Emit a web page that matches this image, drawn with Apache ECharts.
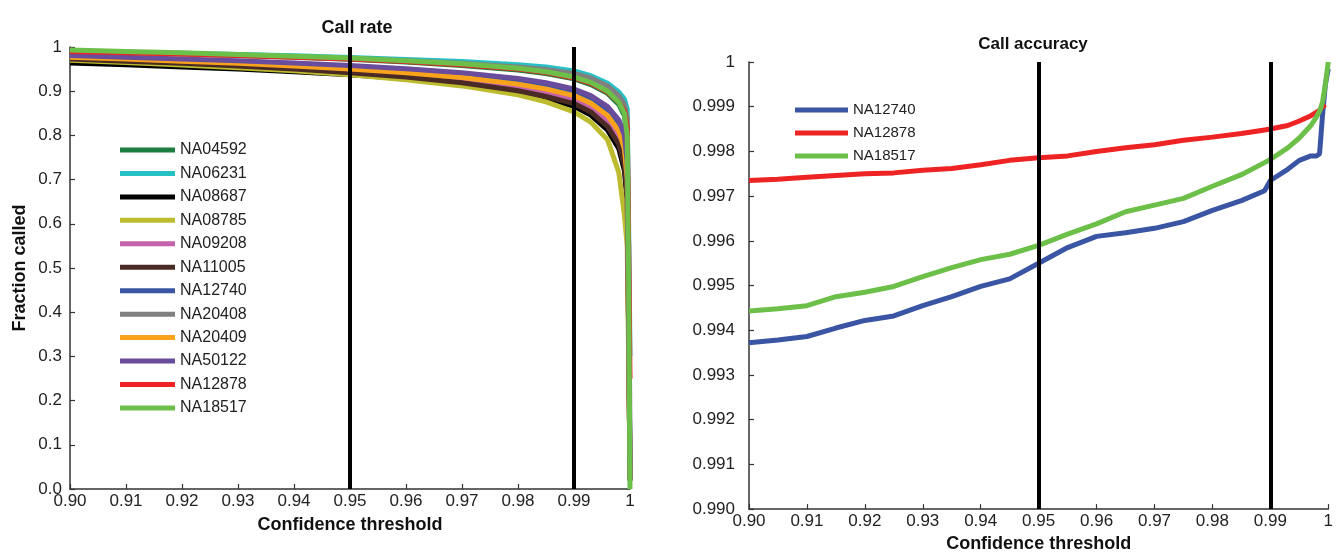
<!DOCTYPE html>
<html>
<head>
<meta charset="utf-8">
<script src="https://cdn.jsdelivr.net/npm/echarts@6/dist/echarts.min.js"></script>
<style>html,body{margin:0;padding:0;background:#fff}#c{width:1336px;height:558px}</style>
</head>
<body>
<div id="c"></div>
<script>
// ---------- Data: Call rate (left) ----------
var xRate = [0.90,0.91,0.92,0.93,0.94,0.95,0.96,0.97,0.98,0.985,0.99,0.993,0.996,0.998,0.999,0.9995,0.9998,1.0];
var rateNames = ['NA04592','NA06231','NA08687','NA08785','NA09208','NA11005','NA12740','NA20408','NA20409','NA50122','NA12878','NA18517'];
var rateColors = ['#1b7d3f','#27c0c4','#000000','#bcbc2e','#c462ac','#4a2a24','#3a55a4','#808080','#f8a31b','#6a4c9c','#ee2424','#6cc04a'];
var rNA04592 = [0.991,0.988,0.985,0.981,0.977,0.972,0.966,0.958,0.948,0.940,0.928,0.915,0.895,0.870,0.845,0.790,0.40,0.02];
var rNA06231 = [0.990,0.988,0.986,0.983,0.980,0.976,0.972,0.967,0.960,0.955,0.946,0.935,0.918,0.898,0.882,0.860,0.55,0.30];
var rNA08687 = [0.964,0.960,0.955,0.950,0.944,0.937,0.928,0.916,0.898,0.884,0.866,0.846,0.812,0.770,0.720,0.650,0.30,0.02];
var rNA08785 = [0.970,0.965,0.959,0.953,0.946,0.937,0.926,0.912,0.892,0.876,0.853,0.830,0.790,0.716,0.620,0.550,0.25,0.02];
var rNA09208 = [0.975,0.971,0.966,0.960,0.954,0.946,0.937,0.925,0.908,0.896,0.880,0.862,0.832,0.795,0.750,0.680,0.30,0.02];
var rNA11005 = [0.973,0.968,0.963,0.957,0.950,0.942,0.932,0.919,0.901,0.888,0.872,0.853,0.820,0.780,0.730,0.660,0.30,0.02];
var rNA12740 = [0.979,0.975,0.970,0.965,0.960,0.953,0.946,0.936,0.922,0.912,0.898,0.882,0.855,0.825,0.790,0.720,0.35,0.02];
var rNA20408 = [0.989,0.987,0.984,0.981,0.978,0.974,0.969,0.963,0.955,0.949,0.940,0.930,0.912,0.890,0.870,0.840,0.50,0.10];
var rNA20409 = [0.977,0.973,0.968,0.963,0.957,0.950,0.942,0.931,0.916,0.905,0.890,0.873,0.845,0.810,0.770,0.700,0.30,0.02];
var rNA50122 = [0.981,0.977,0.973,0.969,0.964,0.958,0.951,0.942,0.929,0.919,0.905,0.890,0.865,0.835,0.800,0.740,0.35,0.02];
var rNA12878 = [0.990,0.987,0.984,0.981,0.977,0.973,0.967,0.960,0.950,0.942,0.930,0.918,0.898,0.875,0.855,0.820,0.50,0.25];
var rNA18517 = [0.993,0.990,0.987,0.983,0.979,0.975,0.969,0.962,0.952,0.944,0.932,0.920,0.900,0.875,0.850,0.800,0.40,0.00];
var rateValues = [rNA04592,rNA06231,rNA08687,rNA08785,rNA09208,rNA11005,rNA12740,rNA20408,rNA20409,rNA50122,rNA12878,rNA18517];

// ---------- Data: Call accuracy (right) ----------
var xAcc = [0.900,0.905,0.910,0.915,0.920,0.925,0.930,0.935,0.940,0.945,0.950,0.955,0.960,0.965,0.970,0.975,0.980,0.985,0.989,0.990,0.993,0.995,0.997,0.998,0.9985,0.999,0.9995,1.0];
var accNames = ['NA12740','NA12878','NA18517'];
var accColors = ['#3a55a4','#ee2424','#6cc04a'];
var aNA12740 = [0.99372,0.99378,0.99386,0.99405,0.99422,0.99432,0.99455,0.99475,0.99498,0.99515,0.99550,0.99585,0.99610,0.99618,0.99628,0.99643,0.99668,0.99690,0.99712,0.99735,0.99760,0.99780,0.99790,0.99790,0.99795,0.99880,0.99950,0.99985];
var aNA12878 = [0.99735,0.99738,0.99742,0.99746,0.99750,0.99752,0.99758,0.99762,0.99770,0.99780,0.99786,0.99790,0.99800,0.99808,0.99815,0.99825,0.99832,0.99840,0.99848,0.99850,0.99858,0.99868,0.99880,0.99888,0.99892,0.99900,0.99905,null];
var aNA18517 = [0.99443,0.99448,0.99455,0.99475,0.99485,0.99498,0.99520,0.99540,0.99558,0.99570,0.99590,0.99615,0.99638,0.99665,0.99680,0.99695,0.99722,0.99748,0.99775,0.99782,0.99808,0.99830,0.99858,0.99878,0.99890,0.99910,0.99950,1.00000];
var accValues = [aNA12740,aNA12878,aNA18517];

var thresholds = [0.95, 0.99];

// ---------- Build chart ----------
var FONT = '"Liberation Sans", Arial, sans-serif';
function pairs(xs, ys){ var o=[]; for(var i=0;i<xs.length;i++){ if(ys[i]!==null) o.push([xs[i], ys[i]]); } return o; }
var markLine = {
  silent:true, symbol:'none', label:{show:false},
  lineStyle:{color:'#000', width:4, type:'solid'},
  emphasis:{disabled:true},
  data: thresholds.map(function(t){ return {xAxis:t}; })
};

var series = [];
rateNames.forEach(function(n,i){
  series.push({
    name:n, type:'line', xAxisIndex:0, yAxisIndex:0, showSymbol:false, symbol:'none',
    color:rateColors[i], lineStyle:{width:5, color:rateColors[i]},
    data: pairs(xRate, rateValues[i]),
    markLine: i===rateNames.length-1 ? markLine : undefined,
    z: 2
  });
});
accNames.forEach(function(n,i){
  series.push({
    name:n, type:'line', xAxisIndex:1, yAxisIndex:1, showSymbol:false, symbol:'none',
    color:accColors[i], lineStyle:{width:5, color:accColors[i]},
    data: pairs(xAcc, accValues[i]),
    markLine: i===accNames.length-1 ? markLine : undefined,
    z: 2
  });
});

function xFmt(v){ return v>=0.99999 ? '1' : v.toFixed(2); }
var axisCommon = {
  axisLine:{show:true, lineStyle:{color:'#333', width:1.5}},
  axisTick:{show:true, inside:true, length:5, lineStyle:{color:'#333', width:1.2}},
  splitLine:{show:false},
  axisLabel:{color:'#222', fontSize:17, fontFamily:FONT, margin:4},
  nameTextStyle:{color:'#111', fontSize:18, fontWeight:'bold', fontFamily:FONT}
};
function ext(a,b){ return Object.assign({}, JSON.parse(JSON.stringify(a)), b); }

var option = {
  animation:false,
  backgroundColor:'#fff',
  title:[
    {text:'Call rate', left:352, top:14, textAlign:'center', textStyle:{fontSize:18, fontWeight:'bold', color:'#111', fontFamily:FONT}},
    {text:'Call accuracy', left:1028, top:31, textAlign:'center', textStyle:{fontSize:17, fontWeight:'bold', color:'#111', fontFamily:FONT}}
  ],
  grid:[
    {left:70, right:706, top:47, bottom:69},
    {left:749, right:5, top:62, bottom:40}
  ],
  legend:[
    {data:rateNames, orient:'vertical', left:120, top:142, padding:0, icon:'rect', itemWidth:55, itemHeight:5, itemGap:7.45,
     textStyle:{fontSize:16, lineHeight:16, color:'#222', fontFamily:FONT}, selectedMode:false},
    {data:accNames, orient:'vertical', left:795, top:102, padding:0, icon:'rect', itemWidth:53, itemHeight:5, itemGap:7,
     textStyle:{fontSize:15, lineHeight:16, color:'#222', fontFamily:FONT}, selectedMode:false}
  ],
  xAxis:[
    ext(axisCommon, {type:'value', gridIndex:0, min:0.90, max:1, interval:0.01, name:'Confidence threshold', nameLocation:'middle', nameGap:27,
      axisLabel:Object.assign({}, axisCommon.axisLabel, {formatter:xFmt})}),
    ext(axisCommon, {type:'value', gridIndex:1, min:0.90, max:1, interval:0.01, name:'Confidence threshold', nameLocation:'middle', nameGap:23,
      axisLabel:Object.assign({}, axisCommon.axisLabel, {formatter:xFmt})})
  ],
  yAxis:[
    ext(axisCommon, {type:'value', gridIndex:0, min:0, max:1, interval:0.1, name:'Fraction called', nameLocation:'middle', nameGap:41,
      axisLabel:Object.assign({}, axisCommon.axisLabel, {margin:8, formatter:function(v){ return v>=0.99999 ? '1' : v.toFixed(1); }})}),
    ext(axisCommon, {type:'value', gridIndex:1, min:0.990, max:1, interval:0.001,
      axisLabel:Object.assign({}, axisCommon.axisLabel, {margin:14, formatter:function(v){ return v>=0.9999999 ? '1' : v.toFixed(3); }})})
  ],
  series: series
};
var chart = echarts.init(document.getElementById('c'), null, {renderer:'canvas'});
chart.setOption(option);
</script>
</body>
</html>
